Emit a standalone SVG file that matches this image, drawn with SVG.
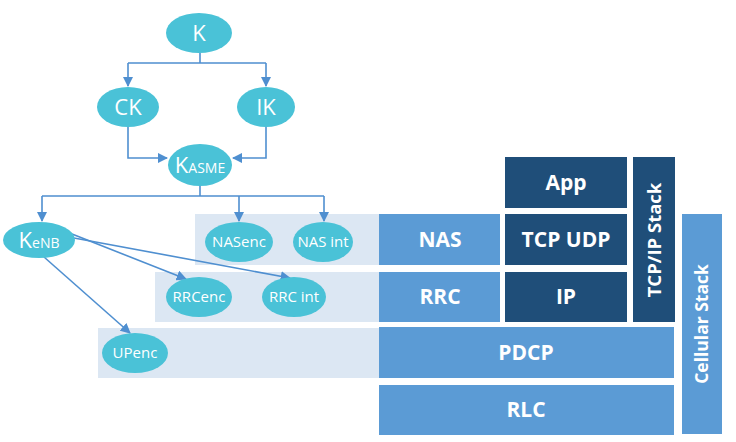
<svg xmlns="http://www.w3.org/2000/svg" width="736" height="442" viewBox="0 0 736 442">
<defs>
<marker id="ah" viewBox="0 0 10 10" refX="9" refY="5" markerWidth="6.5" markerHeight="6.5" orient="auto" markerUnits="strokeWidth">
<path d="M0,0 L10,5 L0,10 z" fill="#4F8FD0"/>
</marker>
<style>
.band{fill:#DCE7F3}
.lb{fill:#5B9BD5}
.db{fill:#1F4E79}
.el{fill:#4AC2D7}
.nt{font-family:"Open Sans","Liberation Sans",sans-serif;fill:#fff;text-anchor:middle}
.bt{font-family:"Open Sans","Liberation Sans",sans-serif;fill:#fff;text-anchor:middle;font-weight:bold}
.cn{fill:none;stroke:#4F8FD0;stroke-width:1.6}
</style>
</defs>
<rect width="736" height="442" fill="#fff"/>
<g id="bands">
<rect class="band" x="195" y="214" width="184" height="51"/>
<rect class="band" x="155" y="272" width="224" height="50"/>
<rect class="band" x="98" y="328" width="281" height="50"/>
</g>
<g id="App"><rect class="db" x="505" y="157" width="122" height="51"/><text class="bt" x="566" y="190" font-size="21">App</text></g>
<g id="TCPUDP"><rect class="db" x="505" y="214" width="122" height="51"/><text class="bt" x="566" y="247" font-size="21">TCP UDP</text></g>
<g id="IP"><rect class="db" x="505" y="272" width="122" height="50"/><text class="bt" x="566" y="304" font-size="21">IP</text></g>
<g id="NAS"><rect class="lb" x="379" y="214" width="121" height="51"/><text class="bt" x="440" y="247" font-size="21">NAS</text></g>
<g id="RRC"><rect class="lb" x="379" y="272" width="121" height="50"/><text class="bt" x="440" y="304" font-size="21">RRC</text></g>
<g id="PDCP"><rect class="lb" x="379" y="327" width="295" height="51"/><text class="bt" x="526" y="360" font-size="21">PDCP</text></g>
<g id="RLC"><rect class="lb" x="379" y="385" width="295" height="50"/><text class="bt" x="526" y="417" font-size="21">RLC</text></g>
<g id="TCPIPStack"><rect class="db" x="633" y="157" width="42" height="165"/><text class="bt" transform="translate(660.5,240) rotate(-90)" font-size="18.5">TCP/IP Stack</text></g>
<g id="CellularStack"><rect class="lb" x="682" y="214" width="40" height="220"/><text class="bt" transform="translate(708,324) rotate(-90)" font-size="17.5">Cellular Stack</text></g>

<g id="connectors">
<path class="cn" d="M200,53 V63 M128,63 H266"/>
<path class="cn" d="M128,63 V86" marker-end="url(#ah)"/>
<path class="cn" d="M266,63 V86" marker-end="url(#ah)"/>
<path class="cn" d="M128,127 V158 H167" marker-end="url(#ah)"/>
<path class="cn" d="M266,127 V158 H233" marker-end="url(#ah)"/>
<path class="cn" d="M200,186 V196 M42,196 H324"/>
<path class="cn" d="M42,196 V221" marker-end="url(#ah)"/>
<path class="cn" d="M239,196 V221" marker-end="url(#ah)"/>
<path class="cn" d="M324,196 V221" marker-end="url(#ah)"/>
<path class="cn" d="M72,234 L186,279" marker-end="url(#ah)"/>
<path class="cn" d="M74,238 L290,278" marker-end="url(#ah)"/>
<path class="cn" d="M44,257 L130,333" marker-end="url(#ah)"/>
</g>

<g id="K"><ellipse class="el" cx="199" cy="33" rx="33" ry="20"/><text class="nt" x="199" y="41" font-size="22">K</text></g>
<g id="CK"><ellipse class="el" cx="128" cy="107" rx="31" ry="20"/><text class="nt" x="128" y="115" font-size="22">CK</text></g>
<g id="IK"><ellipse class="el" cx="266" cy="107" rx="29" ry="20"/><text class="nt" x="266" y="115" font-size="22">IK</text></g>
<g id="KASME"><ellipse class="el" cx="200" cy="165" rx="32" ry="21"/><text class="nt" x="200" y="173" font-size="22">K<tspan font-size="14">ASME</tspan></text></g>
<g id="KeNB"><ellipse class="el" cx="39" cy="240" rx="36" ry="18"/><text class="nt" x="39" y="248" font-size="22">K<tspan font-size="14">eNB</tspan></text></g>
<g id="NASenc"><ellipse class="el" cx="239" cy="242" rx="34" ry="20"/><text class="nt" x="239" y="247" font-size="15">NASenc</text></g>
<g id="NASint"><ellipse class="el" cx="323" cy="242" rx="30" ry="20"/><text class="nt" x="323" y="247" font-size="15">NAS int</text></g>
<g id="RRCenc"><ellipse class="el" cx="199" cy="297" rx="33" ry="20"/><text class="nt" x="199" y="302" font-size="15">RRCenc</text></g>
<g id="RRCint"><ellipse class="el" cx="294" cy="297" rx="32" ry="20"/><text class="nt" x="294" y="302" font-size="15">RRC int</text></g>
<g id="UPenc"><ellipse class="el" cx="135" cy="353" rx="33" ry="20"/><text class="nt" x="135" y="358" font-size="15">UPenc</text></g>
</svg>
